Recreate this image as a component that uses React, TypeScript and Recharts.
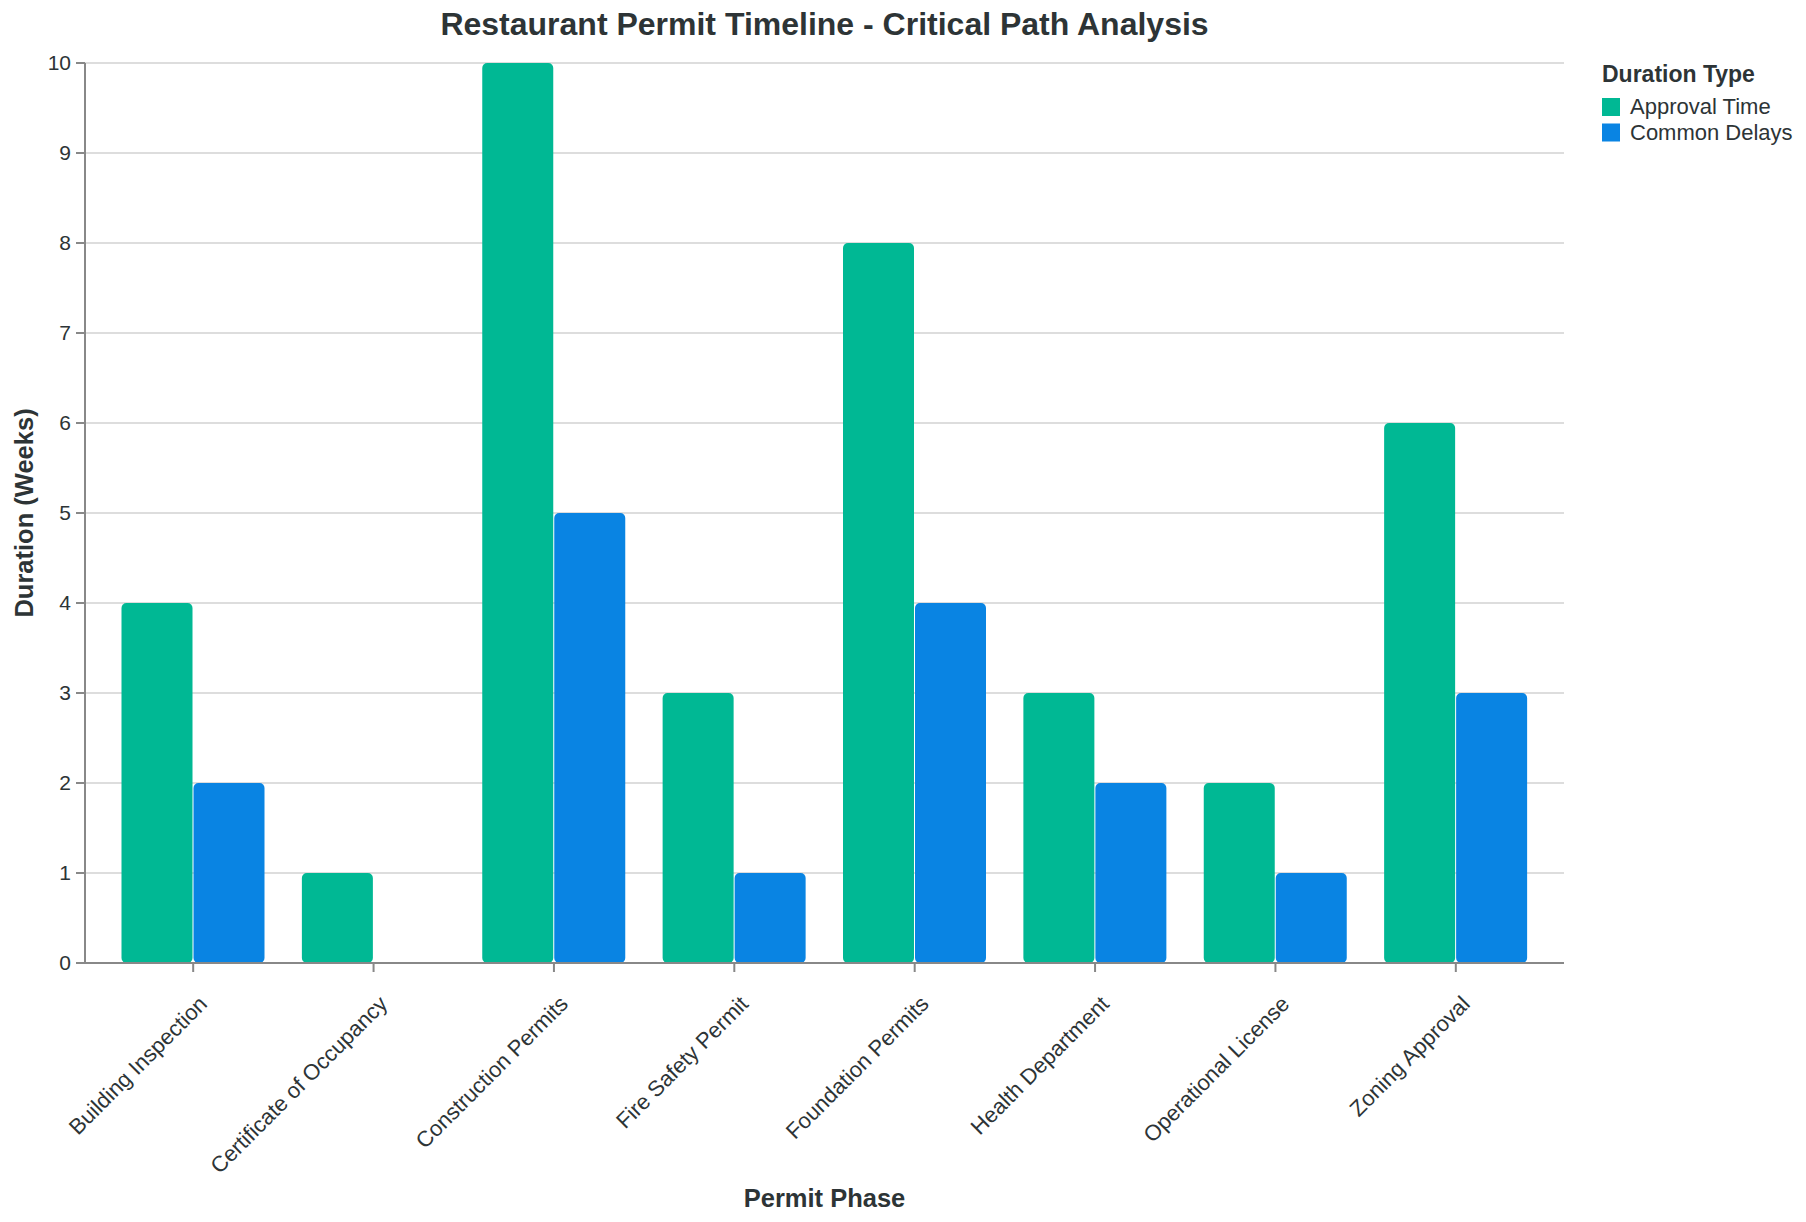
import React from "react";
import { BarChart, Bar, XAxis, YAxis, CartesianGrid } from "recharts";

// Permit phases (x categories)
const phases = [
  "Building Inspection",
  "Certificate of Occupancy",
  "Construction Permits",
  "Fire Safety Permit",
  "Foundation Permits",
  "Health Department",
  "Operational License",
  "Zoning Approval",
];

// Durations in weeks
const approvalTime = [4, 1, 10, 3, 8, 3, 2, 6];
const commonDelays = [2, 0, 5, 1, 4, 2, 1, 3];

const yTicks = [0, 1, 2, 3, 4, 5, 6, 7, 8, 9, 10];

const seriesNames = ["Approval Time", "Common Delays"];
const seriesColors = ["#00b894", "#0984e3"];

const data = phases.map((phase, i) => ({
  phase,
  approval: approvalTime[i],
  delays: commonDelays[i],
}));

const FONT = "'Liberation Sans', Arial, Helvetica, sans-serif";
const TEXT = "#2d3436";
const AXIS = "#888888";
const GRID = "#dddddd";

const W = 1806;
const H = 1222;
const M = { top: 63, right: 242, bottom: 0, left: 0 };
const Y_AXIS_W = 85;
const X_AXIS_H = 259;
const plotLeft = M.left + Y_AXIS_W;
const plotRight = W - M.right;
const plotTop = M.top;
const plotBottom = H - M.bottom - X_AXIS_H;
const plotCenterX = (plotLeft + plotRight) / 2;
const plotCenterY = (plotTop + plotBottom) / 2;

const PhaseTick = (props: any) => {
  const { x, y, payload } = props;
  const ax = x + 4;
  const ay = y + 20;
  return (
    <text
      x={ax}
      y={ay}
      transform={`rotate(-45, ${ax}, ${ay})`}
      textAnchor="end"
      dominantBaseline="hanging"
      fontFamily={FONT}
      fontSize={22}
      fill={TEXT}
    >
      {payload.value}
    </text>
  );
};

const legendX = 1602;
const legendTitleY = 81.5;
const legendRowStep = 25.5;

export default function App() {
  return (
    <div style={{ position: "absolute", left: 0, top: 0, width: W, height: H, background: "#fff" }}>
      <BarChart
        width={W}
        height={H}
        data={data}
        margin={M}
        barCategoryGap={18.5}
        barGap={1}
      >
        <CartesianGrid
          yAxisId="left"
          vertical={false}
          stroke={GRID}
          strokeWidth={2}
        />
        <XAxis
          dataKey="phase"
          height={X_AXIS_H}
          padding={{ left: 18, right: 18 }}
          interval={0}
          tickSize={9}
          tickLine={{ stroke: AXIS, strokeWidth: 2 }}
          axisLine={{ stroke: AXIS, strokeWidth: 2 }}
          tick={<PhaseTick />}
        />
        <YAxis
          yAxisId="left"
          width={Y_AXIS_W}
          domain={[0, 10]}
          ticks={yTicks}
          interval={0}
          tickSize={9}
          tickMargin={5}
          tickLine={{ stroke: AXIS, strokeWidth: 2 }}
          axisLine={{ stroke: AXIS, strokeWidth: 2 }}
          tick={{ fontFamily: FONT, fontSize: 21, fill: TEXT }}
        />
        <YAxis
          yAxisId="frame"
          orientation="right"
          width={0}
          domain={[0, 10]}
          tick={false}
          tickLine={false}
          axisLine={{ stroke: GRID, strokeWidth: 2 }}
        />
        <Bar
          yAxisId="left"
          dataKey="approval"
          name={seriesNames[0]}
          fill={seriesColors[0]}
          radius={5}
          isAnimationActive={false}
        />
        <Bar
          yAxisId="left"
          dataKey="delays"
          name={seriesNames[1]}
          fill={seriesColors[1]}
          radius={5}
          isAnimationActive={false}
        />

        <text
          x={plotCenterX}
          y={35}
          textAnchor="middle"
          fontFamily={FONT}
          fontWeight="bold"
          fontSize={32}
          fill={TEXT}
        >
          Restaurant Permit Timeline - Critical Path Analysis
        </text>

        <text
          x={plotCenterX}
          y={1207}
          textAnchor="middle"
          fontFamily={FONT}
          fontWeight="bold"
          fontSize={25.5}
          fill={TEXT}
        >
          Permit Phase
        </text>

        <text
          x={33}
          y={plotCenterY}
          transform={`rotate(-90, 33, ${plotCenterY})`}
          textAnchor="middle"
          fontFamily={FONT}
          fontWeight="bold"
          fontSize={25.5}
          fill={TEXT}
        >
          Duration (Weeks)
        </text>

        <g>
          <text
            x={legendX}
            y={legendTitleY}
            fontFamily={FONT}
            fontWeight="bold"
            fontSize={23}
            fill={TEXT}
          >
            Duration Type
          </text>
          {seriesNames.map((name, i) => (
            <g key={name}>
              <rect
                x={legendX}
                y={98 + i * legendRowStep}
                width={18}
                height={18}
                fill={seriesColors[i]}
              />
              <text
                x={legendX + 28}
                y={114 + i * legendRowStep}
                fontFamily={FONT}
                fontSize={22}
                fill={TEXT}
              >
                {name}
              </text>
            </g>
          ))}
        </g>
      </BarChart>
    </div>
  );
}
